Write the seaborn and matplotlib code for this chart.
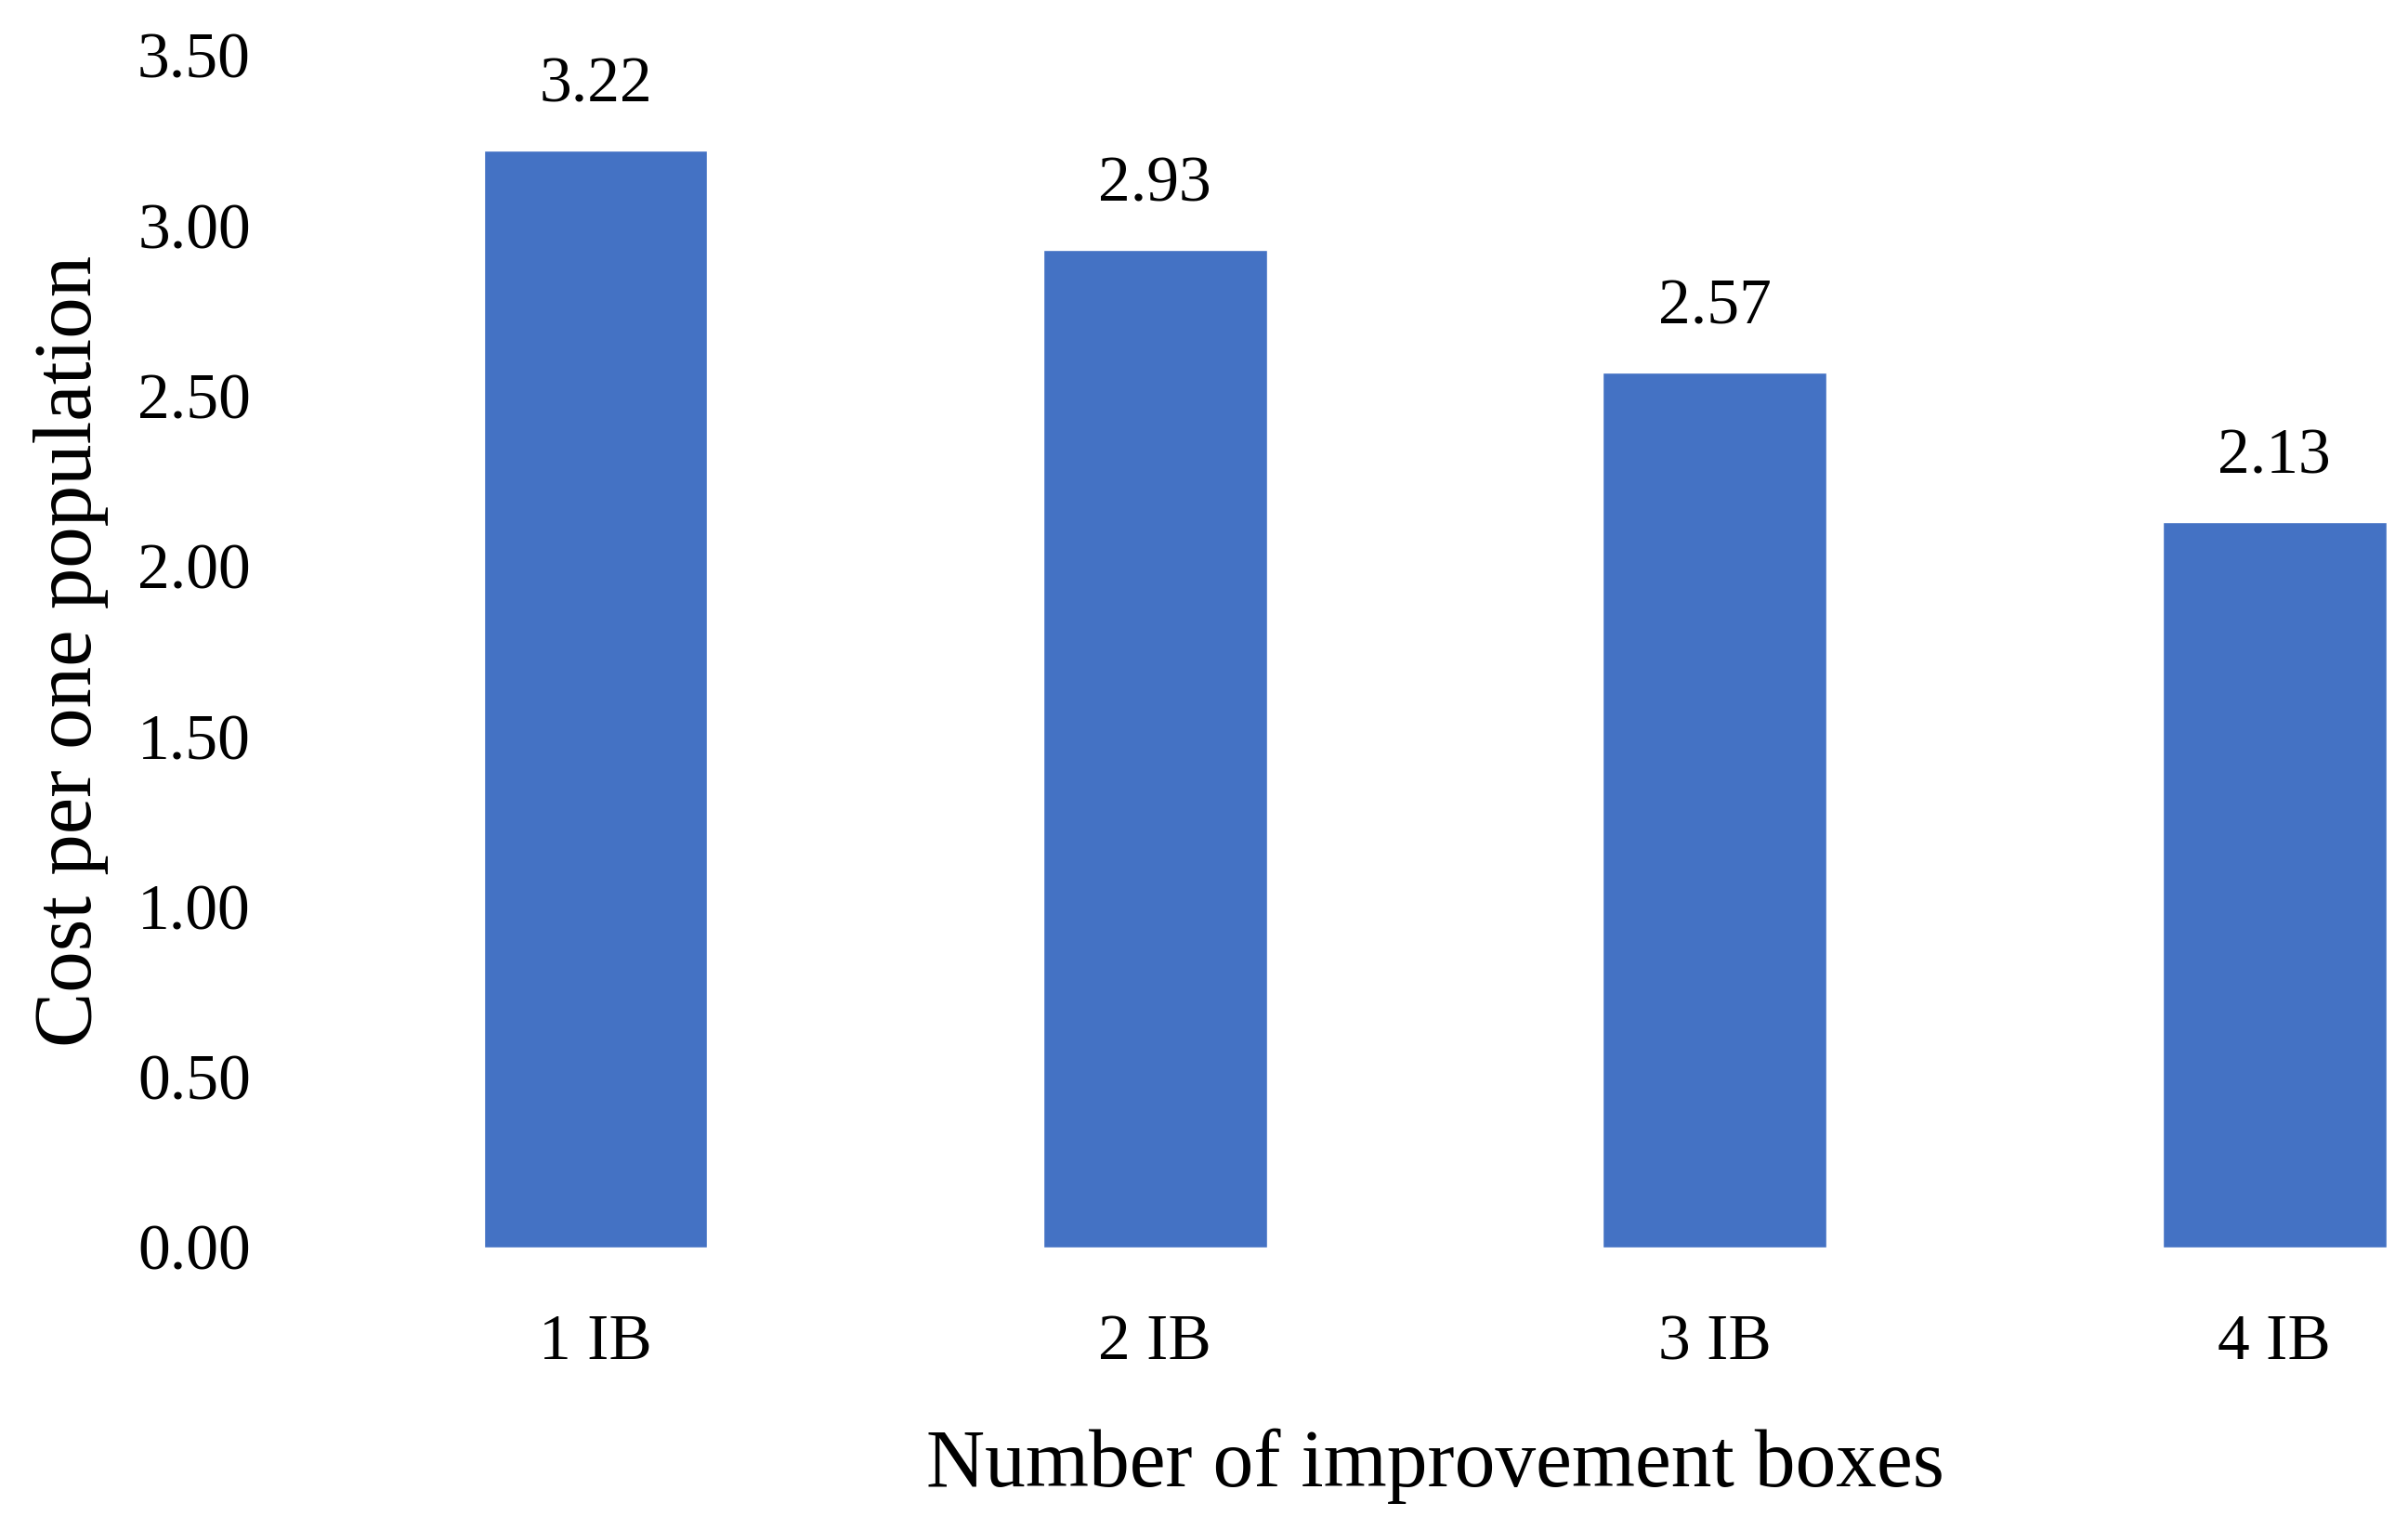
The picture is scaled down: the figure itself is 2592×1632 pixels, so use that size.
import matplotlib
matplotlib.use('Agg')
import matplotlib.pyplot as plt
import seaborn as sns
import pandas as pd

boxes = ['1 IB', '2 IB', '3 IB', '4 IB']
cost = [3.22, 2.93, 2.57, 2.13]
yticks = [0.0, 0.5, 1.0, 1.5, 2.0, 2.5, 3.0, 3.5]

sns.set_style('white')
plt.rcParams['font.family'] = ['Liberation Serif', 'DejaVu Serif']
plt.rcParams['text.color'] = 'black'
plt.rcParams['axes.labelcolor'] = 'black'
plt.rcParams['xtick.color'] = 'black'
plt.rcParams['ytick.color'] = 'black'

df = pd.DataFrame({'box': boxes, 'cost': cost})

fig = plt.figure(figsize=(25.92, 16.32), dpi=100)
ax = fig.add_axes([0.1116, 0.1773, 0.8884, 0.7862])
sns.barplot(data=df, x='box', y='cost', color='#4472C4', width=0.4,
            saturation=1, ax=ax)

ax.set_xlim(-0.584, 3.239)
ax.set_ylim(0, 3.5)
ax.set_yticks(yticks)
ax.set_yticklabels([f'{v:.2f}' for v in yticks])
ax.tick_params(axis='y', length=0, pad=14, labelsize=50)
ax.tick_params(axis='x', length=0, pad=52, labelsize=50)
for s in ax.spines.values():
    s.set_visible(False)

ax.bar_label(ax.containers[0], fmt='%.2f', padding=27, fontsize=50, color='black')

ax.set_xlabel('Number of improvement boxes', fontsize=63)
ax.xaxis.set_label_coords((1.5 + 0.584) / (3.239 + 0.584), -0.152)
ax.set_ylabel('Cost per one population', fontsize=64)
ax.yaxis.set_label_coords(-0.075, 0.5)

fig.savefig('out.png', dpi=100)
